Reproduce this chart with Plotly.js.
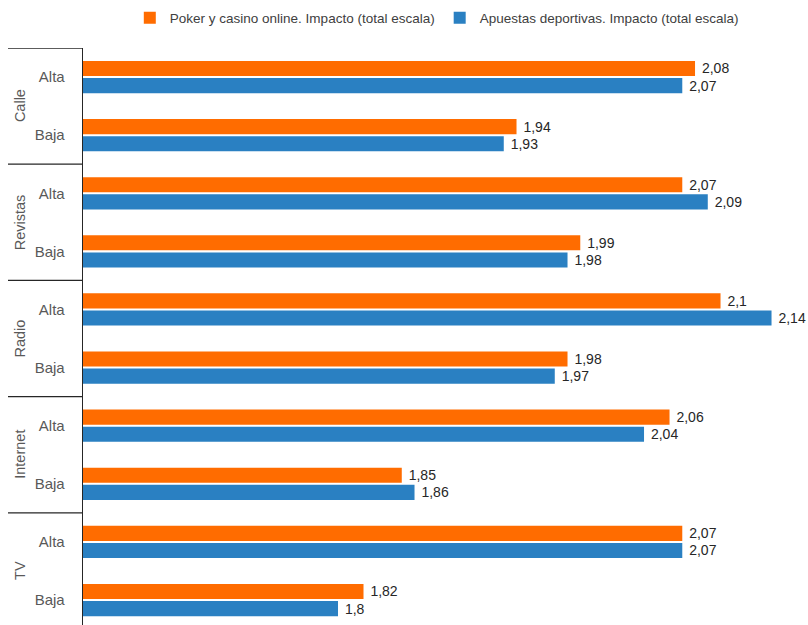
<!DOCTYPE html>
<html>
<head>
<meta charset="utf-8">
<script src="https://cdn.plot.ly/plotly-3.0.1.min.js"></script>
<style>html,body{margin:0;padding:0;overflow:hidden;background:#fff}#chart{width:808px;height:625px}</style>
</head>
<body>
<div id="chart"></div>
<script>
const groups = ["Calle", "Revistas", "Radio", "Internet", "TV"];
const levels = ["Alta", "Baja"];
const poker = [2.08, 1.94, 2.07, 1.99, 2.1, 1.98, 2.06, 1.85, 2.07, 1.82];
const apuestas = [2.07, 1.93, 2.09, 1.98, 2.14, 1.97, 2.04, 1.86, 2.07, 1.8];
const seriesNames = ["Poker y casino online. Impacto (total escala)", "Apuestas deportivas. Impacto (total escala)"];

const cats = [];
const tickText = [];
groups.forEach(g => levels.forEach(l => { cats.push(g + "|" + l); tickText.push(l); }));

const fmt = v => " " + String(v).replace(".", ",");
const font = "'Liberation Sans Narrow', 'Liberation Sans', Arial, sans-serif";

const mkTrace = (vals, name, color) => ({
  type: "bar", orientation: "h", y: cats, x: vals, name: name,
  marker: {color: color, line: {width: 0}},
  text: vals.map(fmt), textposition: "outside", cliponaxis: false, constraintext: "none",
  textfont: {family: font, size: 14, color: "#262626"},
  hoverinfo: "x+name"
});

const shapes = [];
const annotations = [];
groups.forEach((g, i) => {
  shapes.push({type: "line", xref: "paper", yref: "y", x0: -75/725, x1: 0, y0: i*2 - 0.5, y1: i*2 - 0.5, line: {color: "#262626", width: 1.3}});
  annotations.push({xref: "paper", yref: "y", x: -63/725, y: i*2 + 0.5, text: g, showarrow: false, textangle: -90,
    font: {family: font, size: 14.5, color: "#595959"}, xanchor: "center", yanchor: "middle"});
});

const layout = {
  width: 808, height: 625,
  margin: {l: 83, r: 0, t: 48, b: 0},
  paper_bgcolor: "#fff", plot_bgcolor: "#fff",
  barmode: "group", bargap: 0.41, bargroupgap: 0.12,
  font: {family: font},
  xaxis: {range: [1.6, 2.1686], showgrid: false, zeroline: false, showticklabels: false, ticks: "", showline: false, fixedrange: true},
  yaxis: {type: "category", categoryarray: cats, categoryorder: "array", range: [9.43, -0.5], autorange: false,
    tickvals: cats, ticktext: tickText, showgrid: false, zeroline: false, showline: true, linecolor: "#262626", linewidth: 1.3,
    ticks: "", ticklabelstandoff: 14, tickfont: {family: font, size: 15, color: "#595959"}, fixedrange: true},
  legend: {orientation: "h", x: 0.488, xanchor: "center", y: 1.052, yanchor: "middle", itemwidth: 30,
    font: {family: font, size: 13.5, color: "#404040"}, traceorder: "normal"},
  shapes: shapes, annotations: annotations,
  showlegend: true
};

Plotly.newPlot("chart", [mkTrace(poker, seriesNames[0], "#FF6C00"), mkTrace(apuestas, seriesNames[1], "#2A80C2")], layout, {displayModeBar: false, staticPlot: true});
</script>
</body>
</html>
